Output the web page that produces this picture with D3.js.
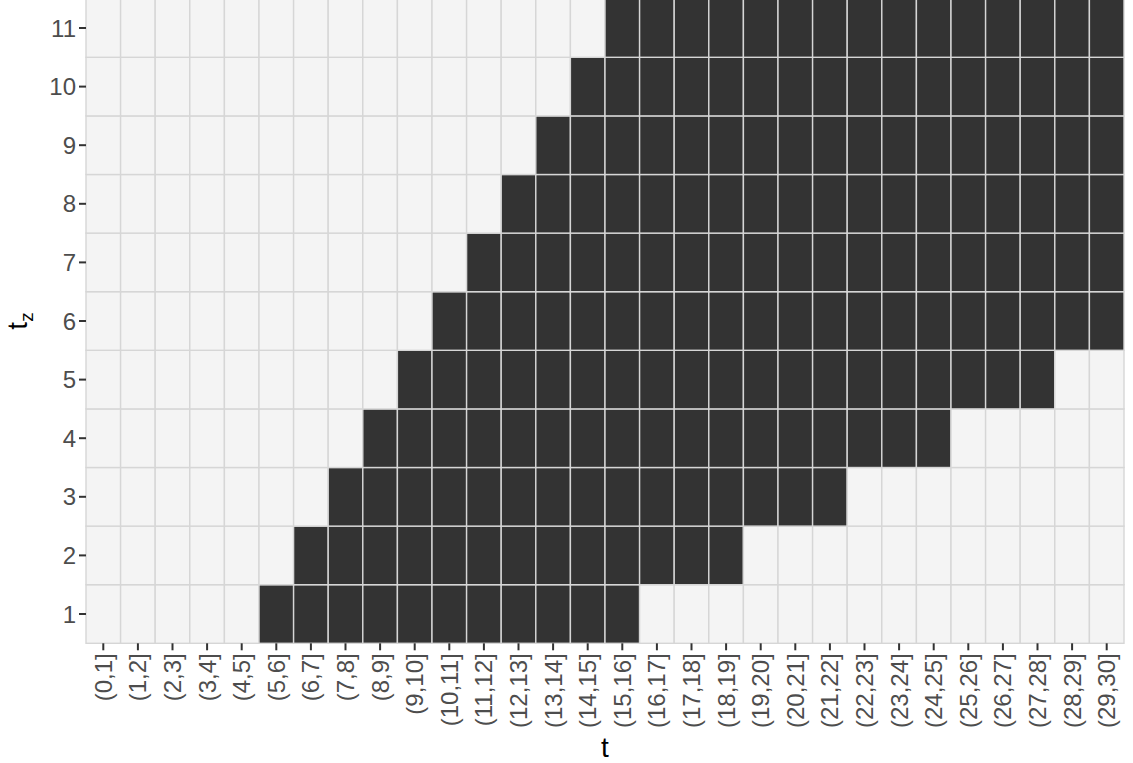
<!DOCTYPE html>
<html>
<head>
<meta charset="utf-8">
<script src="https://cdn.jsdelivr.net/npm/d3@7"></script>
<style>
  html, body { margin: 0; padding: 0; background: #ffffff; }
  svg { display: block; font-family: "Liberation Sans", Arial, sans-serif; }
</style>
</head>
<body>
<svg id="chart" width="1133" height="763"></svg>
<script>
// ---- data ----
const xCategories = ["(0,1]","(1,2]","(2,3]","(3,4]","(4,5]","(5,6]","(6,7]","(7,8]","(8,9]","(9,10]",
  "(10,11]","(11,12]","(12,13]","(13,14]","(14,15]","(15,16]","(16,17]","(17,18]","(18,19]","(19,20]",
  "(20,21]","(21,22]","(22,23]","(23,24]","(24,25]","(25,26]","(26,27]","(27,28]","(28,29]","(29,30]"];
const yLevels = [1,2,3,4,5,6,7,8,9,10,11];
// for each t_z row: first and last interval (by label) that is filled (dark)
const darkFrom = ["(5,6]","(6,7]","(7,8]","(8,9]","(9,10]","(10,11]","(11,12]","(12,13]","(13,14]","(14,15]","(15,16]"];
const darkTo   = ["(15,16]","(18,19]","(21,22]","(24,25]","(27,28]","(29,30]","(29,30]","(29,30]","(29,30]","(29,30]","(29,30]"];

// build cells
const cells = [];
yLevels.forEach((yv, r) => {
  const a = xCategories.indexOf(darkFrom[r]);
  const b = xCategories.indexOf(darkTo[r]);
  xCategories.forEach((xv, i) => {
    cells.push({x: xv, y: yv, on: i >= a && i <= b});
  });
});

const svg = d3.select("#chart");
const pLeft = 86, pRight = 1124, pTop = -1.3, pBottom = 643.3;

const x = d3.scaleBand().domain(xCategories).range([pLeft, pRight]).padding(0);
const y = d3.scaleBand().domain(yLevels.map(String)).range([pBottom, pTop]).padding(0);

// tiles
svg.append("g").selectAll("rect").data(cells).join("rect")
  .attr("x", d => x(d.x))
  .attr("y", d => y(String(d.y)))
  .attr("width", x.bandwidth())
  .attr("height", y.bandwidth())
  .attr("fill", d => d.on ? "#333333" : "#F4F4F4")
  .attr("stroke", "#D6D6D6")
  .attr("stroke-width", 1.4);

// axes
const tickLen = 7;
const xAxis = svg.append("g").attr("transform", `translate(0,${pBottom})`)
  .call(d3.axisBottom(x).tickSize(tickLen).tickSizeOuter(0).tickPadding(3));
xAxis.select(".domain").remove();
xAxis.selectAll(".tick line").attr("stroke", "#333333").attr("stroke-width", 2);
xAxis.selectAll(".tick text")
  .attr("fill", "#4D4D4D")
  .style("font-size", "24px")
  .attr("transform", "rotate(-90)")
  .attr("text-anchor", "end")
  .attr("x", -(tickLen + 3))
  .attr("y", 0)
  .attr("dy", "0.35em");

const yAxis = svg.append("g").attr("transform", `translate(${pLeft},0)`)
  .call(d3.axisLeft(y).tickSize(tickLen).tickSizeOuter(0).tickPadding(3));
yAxis.select(".domain").remove();
yAxis.selectAll(".tick line").attr("stroke", "#333333").attr("stroke-width", 2);
yAxis.selectAll(".tick text")
  .attr("fill", "#4D4D4D")
  .style("font-size", "24px")
  .attr("dy", "0.36em");

// axis titles
svg.append("text")
  .attr("x", (pLeft + pRight) / 2)
  .attr("y", 757)
  .attr("text-anchor", "middle")
  .style("font-size", "28px")
  .attr("fill", "#000000")
  .text("t");

const yt = svg.append("text")
  .attr("transform", `translate(27,${(pTop + pBottom) / 2}) rotate(-90)`)
  .attr("text-anchor", "middle")
  .style("font-size", "28px")
  .attr("fill", "#000000");
yt.append("tspan").text("t");
yt.append("tspan").attr("dy", "6").style("font-size", "19px").text("z");
</script>
</body>
</html>
